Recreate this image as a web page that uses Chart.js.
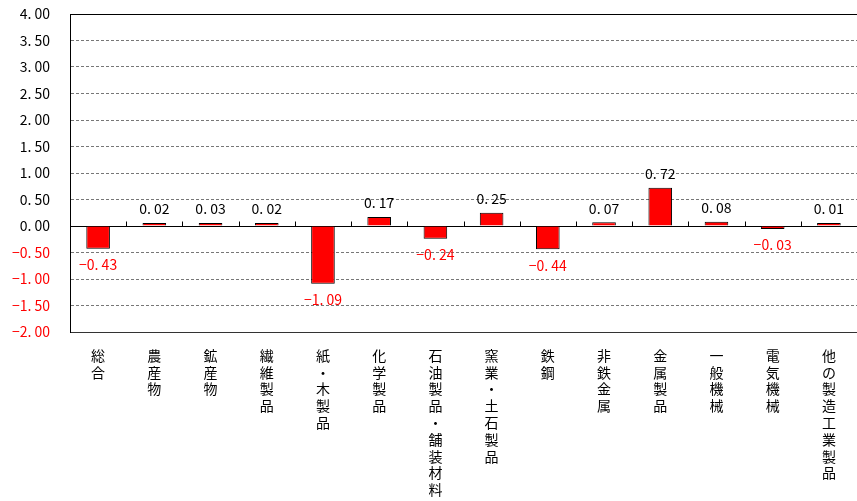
<!DOCTYPE html>
<html>
<head>
<meta charset="utf-8">
<script src="https://cdn.jsdelivr.net/npm/chart.js@4"></script>
<style>
  html, body { margin: 0; padding: 0; background: #fff; }
  #wrap { width: 857px; height: 501px; }
</style>
</head>
<body>
<div id="wrap"><canvas id="contrib"></canvas></div>
<script>
// categories and values
const categories = ['総合', '農産物', '鉱産物', '繊維製品', '紙・木製品', '化学製品', '石油製品・舗装材料',
    '窯業・土石製品', '鉄鋼', '非鉄金属', '金属製品', '一般機械', '電気機械', '他の製造工業製品'];
const values = [-0.43, 0.02, 0.03, 0.02, -1.09, 0.17, -0.24, 0.25, -0.44, 0.07, 0.72, 0.08, -0.03, 0.01];
const yMin = -2.0;
const yMax = 4.0;
const yStep = 0.5;

const FONT = "'Noto Sans CJK JP', 'Noto Sans', sans-serif";

// "0.02" -> "0. 02" and "-0.43" -> "−0. 43" like the original gothic font
const fmt = v => v.toFixed(2).replace('.', '. ').replace('-', '−');

// value labels above / below bars
const valueLabels = {
    id: 'valueLabels',
    afterDatasetsDraw(chart) {
        const ctx = chart.ctx;
        const meta = chart.getDatasetMeta(0);
        ctx.save();
        ctx.font = '14px ' + FONT;
        ctx.textAlign = 'center';
        meta.data.forEach((bar, i) => {
            const v = values[i];
            if (v < 0) {
                ctx.fillStyle = '#ff0000';
                ctx.textBaseline = 'top';
                ctx.fillText(fmt(v), bar.x, bar.y + 9);
            } else {
                ctx.fillStyle = '#000';
                ctx.textBaseline = 'bottom';
                ctx.fillText(fmt(v), bar.x, bar.y - 7);
            }
        });
        ctx.restore();
    }
};

// top border, zero line and little category ticks on it (under the bars)
const frameLines = {
    id: 'frameLines',
    beforeDatasetsDraw(chart) {
        const ctx = chart.ctx;
        const area = chart.chartArea;
        const x = chart.scales.x;
        const y0 = Math.round(chart.scales.y.getPixelForValue(0)) + 0.5;
        const top = Math.round(area.top) + 0.5;
        ctx.save();
        ctx.strokeStyle = '#000';
        ctx.lineWidth = 1;
        ctx.beginPath();
        ctx.moveTo(area.left, top);
        ctx.lineTo(area.right, top);
        ctx.moveTo(area.left, y0);
        ctx.lineTo(area.right, y0);
        for (let i = 0; i < categories.length - 1; i++) {
            const bx = Math.round((x.getPixelForValue(i) + x.getPixelForValue(i + 1)) / 2) + 0.5;
            ctx.moveTo(bx, y0);
            ctx.lineTo(bx, y0 - 5);
        }
        ctx.stroke();
        ctx.restore();
    }
};

const data = {
    labels: categories.map(c => c.split('')),
    datasets: [{
        data: values,
        backgroundColor: '#ff0000',
        borderColor: '#000',
        borderWidth: 1,
        minBarLength: 3,
        barPercentage: 0.42,
        categoryPercentage: 1
    }]
};

const config = {
    type: 'bar',
    data,
    options: {
        responsive: true,
        maintainAspectRatio: false,
        animation: false,
        layout: { padding: { top: 14, right: 0, left: 0, bottom: 0 } },
        plugins: {
            legend: { display: false },
            tooltip: { enabled: false }
        },
        scales: {
            x: {
                grid: { display: false },
                border: { color: '#333', width: 1, dash: [3, 2] },
                ticks: {
                    autoSkip: false,
                    maxRotation: 0,
                    minRotation: 0,
                    color: '#000',
                    padding: 7,
                    font: { family: FONT, size: 14, lineHeight: 1.2 }
                },
                afterFit: scale => { scale.height = 169; }
            },
            y: {
                min: yMin,
                max: yMax,
                ticks: {
                    stepSize: yStep,
                    color: ctx => ctx.tick.value < 0 ? '#ff0000' : '#000',
                    padding: 20,
                    font: { family: FONT, size: 14 },
                    callback: v => fmt(v)
                },
                grid: {
                    drawTicks: false,
                    color: ctx => {
                        const v = ctx.tick ? ctx.tick.value : 0;
                        if (v === yMax) return '#000';
                        if (v === yMin) return '#333';
                        return '#777';
                    },
                    lineWidth: 1
                },
                border: {
                    color: '#000',
                    width: 1,
                    dash: ctx => {
                        if (!ctx.tick) return [];
                        if (ctx.tick.value === yMax || ctx.tick.value === 0) return [];
                        return [3, 2];
                    }
                },
                afterFit: scale => {
                    scale.width = 70;
                    scale.paddingTop = 0;
                    scale.paddingBottom = 0;
                }
            }
        }
    },
    plugins: [valueLabels, frameLines]
};

const contribChart = new Chart(document.getElementById('contrib'), config);
</script>
</body>
</html>
